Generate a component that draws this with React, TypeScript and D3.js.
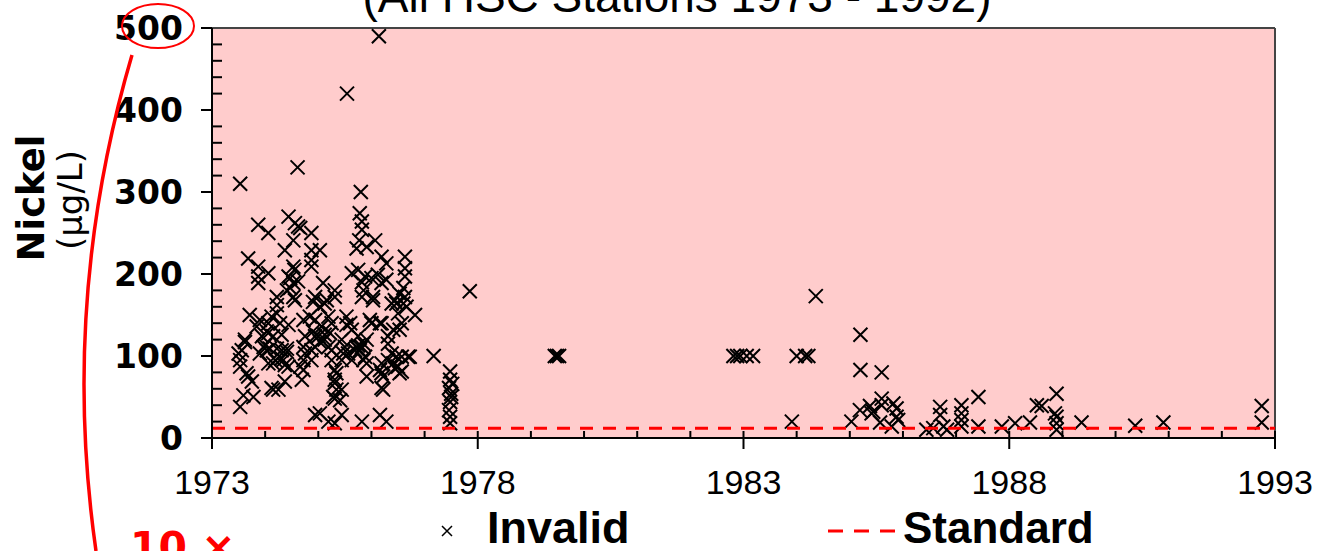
import React from 'react';
import * as d3 from 'd3';

// [decimal year, nickel µg/L]
const samples1973to1974: [number, number][] = [
  [1973.53, 310], [1974.61, 330], [1973.87, 260], [1974.06, 250],
  [1974.44, 270], [1974.56, 262], [1974.62, 258], [1974.87, 250], [1974.53, 241], [1974.37, 229],
  [1973.68, 219], [1973.87, 209], [1974.06, 201], [1973.87, 197], [1973.87, 189],
  [1974.87, 229], [1974.87, 217], [1974.87, 209], [1975.03, 229], [1974.66, 256],
  [1974.53, 209], [1974.47, 195], [1974.62, 191], [1974.47, 183], [1974.53, 172],
  [1974.44, 197], [1974.53, 189], [1974.41, 180], [1974.56, 168], [1974.55, 205],
  [1974.22, 172], [1974.22, 162], [1974.22, 152], [1974.28, 140],
  [1973.71, 150], [1973.9, 144], [1974.06, 140], [1973.84, 136],
  [1974.12, 148], [1974.31, 126], [1974.15, 124], [1974.03, 130], [1973.97, 111], [1974.03, 107],
  [1973.62, 120], [1973.56, 107], [1973.53, 95], [1973.53, 87], [1973.68, 75], [1973.75, 69],
  [1973.62, 117], [1973.5, 103], [1973.65, 79],
  [1973.59, 52], [1973.53, 38], [1973.78, 50],
  [1974.15, 59], [1974.37, 69], [1974.12, 61], [1974.25, 59],
  [1973.94, 124], [1974.06, 128], [1974.0, 113], [1974.09, 109], [1974.22, 109], [1974.31, 107],
  [1974.41, 109], [1974.34, 95], [1974.37, 89], [1974.19, 95], [1974.06, 91],
  [1974.41, 105], [1974.31, 97], [1974.44, 87], [1974.15, 91], [1973.9, 103],
  [1974.44, 138], [1974.72, 144], [1974.75, 124], [1974.72, 95], [1974.72, 83], [1974.69, 71],
  [1974.72, 111], [1974.75, 103], [1974.66, 87],
  [1974.87, 107], [1974.87, 95], [1974.94, 124], [1974.94, 144], [1974.9, 166], [1974.94, 172],
  [1974.84, 148], [1974.9, 130], [1975.0, 124], [1974.94, 111], [1974.94, 28],
];

const samples1975to1977: [number, number][] = [
  [1975.54, 420], [1976.14, 490], [1975.8, 300],
  [1975.78, 274], [1975.82, 264], [1975.82, 254], [1975.77, 241], [1975.72, 231],
  [1976.07, 241], [1975.91, 233], [1976.19, 221], [1976.28, 213],
  [1976.63, 221], [1976.63, 207], [1976.63, 197], [1976.6, 183], [1976.63, 172], [1976.6, 164],
  [1976.82, 150],
  [1975.63, 201], [1975.75, 205], [1975.88, 197], [1976.0, 195], [1976.12, 199], [1976.28, 193],
  [1976.19, 189], [1975.82, 190], [1975.85, 180],
  [1975.82, 172], [1976.03, 168], [1975.97, 144], [1976.16, 140], [1976.38, 164], [1976.47, 164],
  [1976.5, 152], [1976.44, 168], [1976.53, 176],
  [1975.09, 189], [1975.31, 180], [1975.12, 164], [1975.19, 148], [1975.06, 136], [1975.12, 120],
  [1975.22, 128], [1975.31, 172], [1975.16, 168], [1975.03, 160], [1975.25, 140], [1975.12, 126],
  [1975.53, 148], [1975.53, 138], [1975.63, 132], [1975.44, 120], [1975.75, 124], [1975.82, 111],
  [1975.6, 140], [1975.91, 120], [1975.88, 99], [1975.91, 91], [1975.91, 75], [1976.19, 79], [1976.22, 59],
  [1976.31, 124], [1976.41, 132], [1976.57, 140], [1976.31, 95], [1976.38, 103], [1976.47, 99],
  [1976.57, 99], [1976.69, 99], [1976.53, 79], [1976.44, 85], [1976.66, 160], [1976.53, 132], [1976.31, 115],
  [1975.25, 95], [1975.31, 83], [1975.31, 71], [1975.34, 59], [1975.31, 48], [1975.44, 59],
  [1975.34, 79], [1975.41, 46], [1975.28, 50], [1975.31, 67],
  [1975.5, 111], [1975.56, 103], [1975.63, 95], [1975.69, 107], [1975.75, 113], [1975.47, 103],
  [1975.44, 95], [1975.72, 111], [1975.78, 107], [1975.85, 95], [1975.85, 115], [1976.0, 140],
  [1976.03, 172], [1976.19, 140], [1976.19, 91], [1976.16, 83], [1976.19, 61], [1976.22, 75],
  [1976.72, 99], [1976.57, 81], [1976.5, 87], [1976.41, 91],
  [1975.03, 30], [1975.19, 20], [1975.44, 28], [1975.82, 20], [1976.16, 28], [1976.28, 20], [1975.31, 18],
  [1975.19, 111], [1975.25, 107], [1975.03, 117],
  [1977.17, 100],
  [1977.48, 81], [1977.48, 71], [1977.46, 61], [1977.5, 54], [1977.48, 44], [1977.46, 34],
  [1977.48, 26], [1977.48, 18], [1977.52, 66], [1977.5, 50], [1977.85, 179],
];

const samples1979to1984: [number, number][] = [
  [1979.45, 100], [1979.49, 100], [1979.53, 100],
  [1982.81, 100], [1982.88, 100], [1982.94, 100], [1983.06, 100], [1983.18, 100],
  [1983.91, 20], [1984.0, 100], [1984.16, 100], [1984.22, 100], [1984.36, 173],
];

const samples1985to1992: [number, number][] = [
  [1985.2, 126], [1985.2, 83], [1985.6, 80], [1985.03, 20], [1985.19, 34], [1985.38, 39],
  [1985.44, 32], [1985.41, 30], [1985.6, 48], [1985.6, 40], [1985.57, 19], [1985.79, 14],
  [1985.82, 42], [1985.88, 36], [1985.88, 26], [1985.91, 22],
  [1986.44, 10], [1986.57, 12], [1986.7, 38], [1986.7, 28], [1986.76, 14], [1986.83, 10],
  [1987.1, 40], [1987.1, 30], [1987.1, 22], [1987.1, 14], [1987.42, 50], [1987.42, 14],
  [1987.86, 14], [1988.11, 18], [1988.39, 19], [1988.52, 40], [1988.61, 39], [1988.89, 54],
  [1988.86, 30], [1988.89, 26], [1988.89, 18], [1988.89, 10], [1989.36, 19],
  [1990.37, 15], [1990.9, 19], [1992.75, 39], [1992.75, 19],
];

const STANDARD = 12;
const yTicks = [0, 100, 200, 300, 400, 500];
const xTicks = [1973, 1978, 1983, 1988, 1993];
const title = '(All HSC Stations 1973 - 1992)';

const W = 1322;
const H = 551;
const margin = { left: 212, right: 47, top: 28, bottom: 113 };

export default function App() {
  const x = d3.scaleLinear().domain([1973, 1993]).range([margin.left, W - margin.right]);
  const y = d3.scaleLinear().domain([0, 500]).range([H - margin.bottom, margin.top]);
  const all = [...samples1973to1974, ...samples1975to1977, ...samples1979to1984, ...samples1985to1992];
  const x0 = x(1973), x1 = x(1993), y0 = y(0), y1 = y(500);
  const minorY = d3.range(20, 500, 20).filter(v => v % 100 !== 0);
  const minorX = d3.range(1974, 1993).filter(v => !xTicks.includes(v));
  const cross = 'M-7,-7L7,7M-7,7L7,-7';

  return (
    <svg width={W} height={H} style={{ position: 'fixed', left: 0, top: 0, background: '#fff' }}>
      <text x={677} y={12} textAnchor="middle" fontFamily="Liberation Sans" fontSize={46}>{title}</text>

      <rect x={x0} y={y1} width={x1 - x0} height={y0 - y1} fill="#ffcccc" />
      <line x1={x0} x2={x1} y1={y1} y2={y1} stroke="#444" strokeWidth={2} />
      <line x1={x1} x2={x1} y1={y1} y2={y0} stroke="#444" strokeWidth={2} />

      {all.map(([d, v], i) => (
        <path key={i} d={cross} transform={`translate(${x(d)},${y(v)})`} stroke="#000" strokeWidth={2} fill="none" />
      ))}

      <line x1={x0} x2={x1} y1={y(STANDARD)} y2={y(STANDARD)} stroke="#ff0000" strokeWidth={3} strokeDasharray="13,10" />

      {/* axes */}
      <line x1={x0} x2={x0} y1={y1} y2={y0} stroke="#000" strokeWidth={2} />
      <line x1={x0} x2={x1 + 1} y1={y0} y2={y0} stroke="#000" strokeWidth={2} />
      {yTicks.map(t => (
        <g key={t}>
          <line x1={x0 - 11} x2={x0} y1={y(t)} y2={y(t)} stroke="#000" strokeWidth={2} />
          <text x={183} y={y(t) + 12} textAnchor="end" fontFamily="DejaVu Sans" fontWeight="bold" fontSize={33}>{t}</text>
        </g>
      ))}
      {minorY.map(t => (
        <line key={t} x1={x0} x2={x0 + 10} y1={y(t)} y2={y(t)} stroke="#000" strokeWidth={2} />
      ))}
      {xTicks.map(t => (
        <g key={t}>
          <line x1={x(t)} x2={x(t)} y1={y0 - 7} y2={y0 + 11} stroke="#000" strokeWidth={2} />
          <text x={x(t)} y={494} textAnchor="middle" fontFamily="Liberation Sans" fontSize={34}>{t}</text>
        </g>
      ))}
      {minorX.map(t => (
        <line key={t} x1={x(t)} x2={x(t)} y1={y0 - 7} y2={y0} stroke="#000" strokeWidth={2} />
      ))}

      <text transform="translate(44,198) rotate(-90)" textAnchor="middle" fontFamily="DejaVu Sans" fontWeight="bold" fontSize={37}>Nickel</text>
      <text transform="translate(82,200) rotate(-90)" textAnchor="middle" fontFamily="DejaVu Sans" fontSize={34}>(µg/L)</text>

      {/* legend */}
      <path d="M-5,-5L5,5M-5,5L5,-5" transform="translate(447,531)" stroke="#000" strokeWidth={1.5} />
      <text x={487} y={543} fontFamily="Liberation Sans" fontWeight="bold" fontSize={45}>Invalid</text>
      <line x1={828} x2={895} y1={531} y2={531} stroke="#ff0000" strokeWidth={3} strokeDasharray="15,11" />
      <text x={903} y={543} fontFamily="Liberation Sans" fontWeight="bold" fontSize={44}>Standard</text>

      {/* annotation */}
      <ellipse cx={158} cy={26} rx={36} ry={22} fill="none" stroke="#ff0000" strokeWidth={2} />
      <path d="M132,55 Q60,300 96,551" fill="none" stroke="#ff0000" strokeWidth={3.5} />
      <text x={130} y={561} fontFamily="DejaVu Sans" fontWeight="bold" fontSize={41} fill="#ff0000">10 ×</text>
    </svg>
  );
}
